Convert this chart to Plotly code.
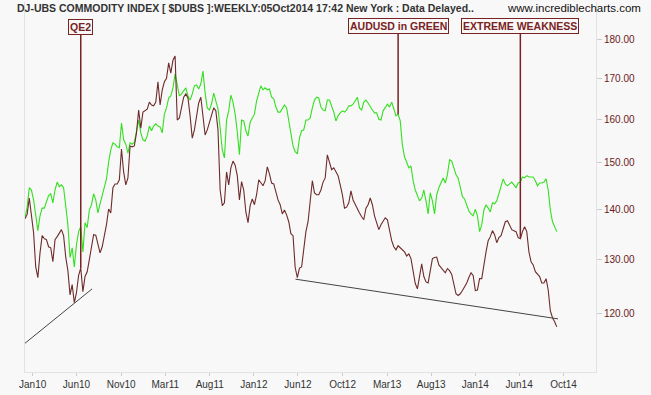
import math
import plotly.graph_objects as go
import pandas as pd

# Weekly closes (DJ-UBS commodity index) and AUDUSD rescaled onto the same axis
dj_ubs = [138.1, 139.0, 142.4, 138.3, 135.3, 128.6, 126.6, 131.3, 134.7, 134.1,
          133.9, 132.5, 132.3, 129.6, 133.9, 134.5, 135.3, 135.9, 134.7, 130.5,
          127.9, 123.4, 125.3, 122.0, 123.8, 127.0, 128.4, 124.0, 126.8, 127.7,
          130.0, 132.7, 134.9, 134.8, 132.7, 131.3, 132.5, 134.7, 136.9, 140.1,
          139.3, 144.6, 145.4, 145.4, 146.3, 153.1, 148.0, 145.2, 146.7, 153.8,
          153.6, 153.8, 156.8, 162.2, 157.9, 161.7, 162.0, 162.4, 164.1, 163.4,
          163.2, 164.1, 169.1, 163.4, 167.1, 169.1, 170.0, 173.9, 171.3, 174.6,
          175.7, 159.8, 160.3, 162.7, 165.3, 166.1, 165.1, 160.8, 155.6, 157.5,
          160.3, 163.9, 165.3, 161.0, 156.3, 157.5, 159.1, 161.2, 162.7, 162.0,
          157.5, 144.1, 140.8, 141.4, 148.0, 145.2, 148.9, 150.4, 149.5, 147.2,
          142.0, 145.9, 144.1, 139.5, 137.3, 140.8, 142.2, 141.0, 143.1, 146.3,
          145.6, 145.0, 146.1, 149.1, 147.6, 145.6, 145.4, 143.7, 142.0, 141.0,
          139.1, 139.9, 138.9, 137.5, 135.1, 134.7, 128.5, 126.6, 128.4, 128.6,
          131.9, 135.5, 137.5, 142.0, 146.1, 143.5, 143.1, 143.1, 144.1, 145.8,
          146.7, 151.8, 150.2, 148.5, 148.9, 148.0, 147.2, 145.2, 143.1, 140.3,
          140.5, 141.4, 143.9, 142.0, 141.0, 140.3, 139.3, 138.5, 137.9, 140.3,
          141.0, 142.4, 141.0, 138.7, 137.3, 135.9, 136.9, 137.7, 138.3, 137.9,
          135.9, 133.7, 132.5, 131.9, 132.7, 132.3, 131.7, 131.5, 130.7, 131.1,
          130.2, 128.1, 125.5, 124.5, 127.0, 129.2, 126.8, 125.8, 125.6, 128.1,
          130.2, 130.4, 130.5, 129.0, 128.5, 128.1, 127.5, 128.3, 127.9, 127.2,
          125.3, 123.6, 123.3, 123.6, 124.2, 124.9, 125.6, 126.6, 127.5, 127.0,
          124.2, 124.3, 126.4, 126.4, 129.2, 131.5, 133.7, 134.5, 135.7, 134.9,
          133.3, 134.3, 134.7, 136.1, 137.5, 137.7, 136.9, 135.9, 135.7, 135.5,
          134.3, 134.1, 135.5, 136.5, 135.5, 131.5, 129.6, 129.0, 127.7, 127.2,
          126.8, 125.6, 125.6, 126.4, 124.3, 120.5, 119.3, 118.6, 117.7]

audusd_scaled = [138.3, 140.5, 144.6, 144.1, 142.0, 138.7, 135.7, 138.7, 140.3, 140.3,
                 141.8, 142.9, 143.3, 141.4, 144.1, 145.8, 144.8, 145.2, 144.6, 140.3,
                 136.9, 130.4, 132.3, 128.6, 132.9, 135.5, 136.5, 131.5, 137.3, 136.3,
                 139.9, 141.0, 143.3, 142.0, 139.3, 141.2, 142.9, 145.0, 146.5, 150.2,
                 152.9, 154.5, 154.2, 153.6, 153.4, 159.1, 155.2, 154.2, 152.2, 154.5,
                 154.2, 154.7, 157.0, 159.8, 156.8, 155.2, 154.9, 156.1, 158.4, 157.3,
                 158.4, 158.9, 158.4, 158.2, 156.8, 161.2, 162.7, 165.1, 165.6, 167.6,
                 171.1, 168.1, 165.6, 166.1, 166.8, 167.6, 165.6, 164.6, 166.1, 168.1,
                 168.3, 167.3, 168.6, 171.8, 166.3, 162.7, 162.2, 163.7, 166.3, 164.6,
                 162.5, 158.0, 152.9, 151.1, 159.8, 162.0, 165.8, 164.1, 161.2, 157.0,
                 151.8, 159.8, 159.6, 157.3, 156.1, 159.3, 160.3, 161.2, 164.4, 166.6,
                 168.1, 167.1, 167.6, 167.1, 167.3, 165.3, 164.9, 162.9, 161.7, 161.7,
                 162.5, 163.4, 162.7, 159.6, 156.3, 153.8, 152.5, 152.0, 155.6, 157.3,
                 157.5, 159.8, 159.8, 160.3, 162.7, 164.6, 165.3, 165.1, 162.9, 162.2,
                 162.0, 164.6, 164.6, 163.2, 161.7, 159.6, 160.8, 161.5, 162.0, 161.7,
                 162.2, 163.2, 163.2, 163.6, 164.6, 165.3, 162.7, 162.2, 164.1, 164.6,
                 163.9, 163.2, 162.2, 161.5, 161.5, 160.0, 159.8, 162.0, 162.9, 163.6,
                 162.9, 164.1, 162.5, 160.8, 161.2, 159.6, 154.0, 151.3, 150.2, 148.9,
                 149.3, 146.1, 144.1, 142.7, 141.8, 142.4, 144.1, 141.8, 139.1, 143.5,
                 141.8, 139.1, 143.1, 144.6, 145.6, 146.7, 145.6, 147.4, 150.7, 150.4,
                 148.9, 147.4, 146.7, 144.6, 142.7, 142.2, 141.0, 139.7, 139.1, 138.7,
                 140.1, 138.7, 135.5, 136.9, 139.9, 141.0, 140.3, 139.5, 141.4, 141.2,
                 141.8, 143.3, 145.2, 146.5, 145.4, 145.0, 145.4, 145.8, 145.2, 144.6,
                 145.6, 145.8, 146.9, 146.7, 147.2, 146.9, 146.9, 146.9, 146.1, 145.0,
                 145.6, 145.6, 145.8, 146.5, 144.1, 139.9, 137.5, 136.3, 135.5]

# Hand-drawn support lines (date, value)
support1_dates = ['2009-12-30', '2010-08-08']
support1_values = [114.8, 124.5]
support2_dates = ['2012-06-02', '2014-10-07']
support2_values = [126.3, 119.1]

# Axis ticks
tick_dates = ['2010-01-26', '2010-06-18', '2010-11-11', '2011-04-04', '2011-08-27',
              '2012-01-18', '2012-06-10', '2012-11-03', '2013-03-28', '2013-08-19',
              '2014-01-10', '2014-06-02', '2014-10-25']
tick_labels = ['Jan10', 'Jun10', 'Nov10', 'Mar11', 'Aug11', 'Jan12', 'Jun12',
               'Oct12', 'Mar13', 'Aug13', 'Jan14', 'Jun14', 'Oct14']
y_ticks = [120, 130, 140, 150, 160, 170, 180]

# Annotation labels and the week index they point to
notes = [("QE2", "dj", 26), ("AUDUSD in GREEN", "aud", 174), ("EXTREME WEAKNESS", "dj", 231)]

dj_dates = pd.date_range('2010-01-01', periods=len(dj_ubs), freq='7D')
aud_dates = pd.date_range('2010-01-01', periods=len(audusd_scaled), freq='7D')

BG = '#f8f8f8'
MAROON = '#7a2222'
FONT = 'Liberation Sans, Arial, sans-serif'

fig = go.Figure()
fig.add_trace(go.Scatter(x=aud_dates, y=audusd_scaled, mode='lines',
                         line=dict(color='#33e01f', width=1.1), showlegend=False))
fig.add_trace(go.Scatter(x=dj_dates, y=dj_ubs, mode='lines',
                         line=dict(color='#6e2b2b', width=1.1), showlegend=False))
fig.add_trace(go.Scatter(x=support1_dates, y=support1_values, mode='lines',
                         line=dict(color='#444444', width=1), showlegend=False))
fig.add_trace(go.Scatter(x=support2_dates, y=support2_values, mode='lines',
                         line=dict(color='#444444', width=1), showlegend=False))

annotations = []
offsets = {"QE2": -241, "AUDUSD in GREEN": -88, "EXTREME WEAKNESS": -213}
for text, series, idx in notes:
    if series == "dj":
        px, py = dj_dates[idx], dj_ubs[idx]
    else:
        px, py = aud_dates[idx], audusd_scaled[idx]
    annotations.append(dict(
        x=px, y=math.log10(py), xref='x', yref='y', text='<b>%s</b>' % text,
        showarrow=True, arrowhead=0, arrowwidth=1.5, arrowcolor=MAROON,
        ax=0, ay=offsets[text], standoff=0,
        font=dict(family=FONT, size=10.5, color=MAROON),
        bordercolor=MAROON, borderwidth=1, borderpad=1, bgcolor=BG))

annotations.append(dict(
    xref='paper', yref='paper', x=-0.0175, y=0.983, xanchor='left', yanchor='middle',
    text='<b>DJ-UBS COMMODITY INDEX [ $DUBS ]:WEEKLY:05Oct2014 17:42 New York : Data Delayed..</b>',
    showarrow=False, font=dict(family=FONT, size=10.5, color='#333333')))
annotations.append(dict(
    xref='paper', yref='paper', x=1.0823, y=0.983, xanchor='right', yanchor='middle',
    text='www.incrediblecharts.com', showarrow=False,
    font=dict(family=FONT, size=11.5, color='#111111')))

fig.update_layout(
    width=651, height=395,
    margin=dict(l=25, r=55, t=2, b=23),
    paper_bgcolor=BG, plot_bgcolor=BG,
    annotations=annotations,
    xaxis=dict(type='date', range=['2010-01-01', '2015-02-08'],
               tickvals=tick_dates, ticktext=tick_labels,
               tickfont=dict(family=FONT, size=10, color='#333333'),
               showgrid=False, zeroline=False, showline=True, linecolor='#e2e2e2',
               ticks='outside', ticklen=3, tickcolor='#cccccc'),
    yaxis=dict(type='log', range=[2.0418, 2.2794], side='right',
               tickvals=y_ticks, ticktext=['%.2f' % v for v in y_ticks],
               tickfont=dict(family=FONT, size=10, color='#6b1a1a'),
               showgrid=False, zeroline=False, showline=True, mirror=True,
               linecolor='#e2e2e2', ticks='outside', ticklen=5, tickcolor='#cccccc'),
)

fig.write_html("out.html", config={'displayModeBar': False},
               post_script="document.body.style.margin='0';document.body.style.background='%s';" % BG)
